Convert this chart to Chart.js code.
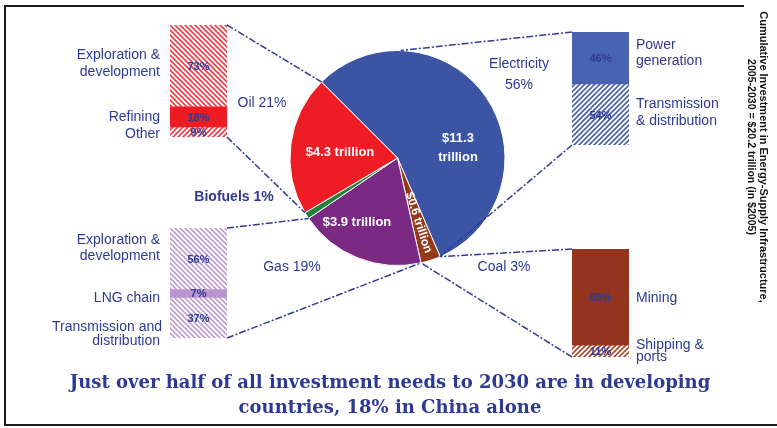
<!DOCTYPE html>
<html>
<head>
<meta charset="utf-8">
<script src="https://cdn.jsdelivr.net/npm/chart.js@4.4.1/dist/chart.umd.min.js"></script>
<style>
  html, body { margin: 0; padding: 0; background: #fff; }
  #page { position: relative; width: 777px; height: 428px; overflow: hidden; background: #fff; }
  #page canvas { position: absolute; }
  #pie { left: 0; top: 0; z-index: 2; pointer-events: none; }
</style>
</head>
<body>
<div id="page">
  <canvas id="oilBar" width="57" height="112" style="left:170px;top:25px"></canvas>
  <canvas id="gasBar" width="57" height="110" style="left:170px;top:228px"></canvas>
  <canvas id="powerBar" width="57" height="113" style="left:572px;top:32px"></canvas>
  <canvas id="coalBar" width="57" height="108" style="left:572px;top:249px"></canvas>
  <canvas id="pie" width="777" height="428"></canvas>
</div>
<script>
// sector shares of total supply investment 2005-2030, per cent
const sectors = ['Electricity', 'Coal', 'Gas', 'Biofuels', 'Oil'];
const sectorShares = [56, 3, 19, 1, 21];
const sectorTrillions = ['$11.3 trillion', '$0.6 trillion', '$3.9 trillion', '', '$4.3 trillion'];

// breakdown inside each sector, per cent
const oilParts = ['Exploration & development', 'Refining', 'Other'];
const oilShares = [73, 18, 9];
const gasParts = ['Exploration & development', 'LNG chain', 'Transmission and distribution'];
const gasShares = [56, 7, 37];
const powerParts = ['Power generation', 'Transmission & distribution'];
const powerShares = [46, 54];
const coalParts = ['Mining', 'Shipping & ports'];
const coalShares = [89, 11];

const INK = '#2e3a92';

// diagonal hatch fill; dir 1 = "\\", -1 = "/"
function hatch(color, dir) {
  const s = 5;
  const c = document.createElement('canvas');
  c.width = s; c.height = s;
  const g = c.getContext('2d');
  g.strokeStyle = color;
  g.lineWidth = 1.6;
  g.beginPath();
  if (dir > 0) {
    g.moveTo(0, 0); g.lineTo(s, s);
    g.moveTo(-1, s - 1); g.lineTo(1, s + 1);
    g.moveTo(s - 1, -1); g.lineTo(s + 1, 1);
  } else {
    g.moveTo(0, s); g.lineTo(s, 0);
    g.moveTo(-1, 1); g.lineTo(1, -1);
    g.moveTo(s - 1, s + 1); g.lineTo(s + 1, s - 1);
  }
  g.stroke();
  return g.createPattern(c, 'repeat');
}

function splitBar(id, parts, shares, fills) {
  return new Chart(document.getElementById(id), {
    type: 'bar',
    data: {
      labels: [''],
      datasets: parts.map((p, i) => ({
        label: p,
        data: [shares[i]],
        backgroundColor: fills[i],
        borderWidth: 0,
        barPercentage: 1,
        categoryPercentage: 1
      }))
    },
    options: {
      responsive: false,
      animation: false,
      devicePixelRatio: 1,
      layout: { padding: 0 },
      plugins: { legend: { display: false }, tooltip: { enabled: false } },
      scales: {
        x: { display: false, stacked: true },
        y: { display: false, stacked: true, min: 0, max: 100, reverse: true }
      }
    }
  });
}

const oilChart = splitBar('oilBar', oilParts, oilShares,
  [hatch('#f03c44', 1), '#ed1c24', hatch('#f03c44', -1)]);
const gasChart = splitBar('gasBar', gasParts, gasShares,
  [hatch('#bf9dd3', 1), '#b995cf', hatch('#bf9dd3', 1)]);
const powerChart = splitBar('powerBar', powerParts, powerShares,
  ['#4863b0', hatch('#4a5fae', -1)]);
const coalChart = splitBar('coalBar', coalParts, coalShares,
  ['#93351e', hatch('#b0482c', -1)]);

// page-space box of a stacked bar
function barBox(chart) {
  const metas = chart.getSortedVisibleDatasetMetas();
  const first = metas[0].data[0];
  const last = metas[metas.length - 1].data[0];
  const ox = chart.canvas.offsetLeft, oy = chart.canvas.offsetTop;
  return {
    left: ox + first.x - first.width / 2,
    right: ox + first.x + first.width / 2,
    top: oy + Math.min(first.base, first.y),
    bottom: oy + Math.max(last.base, last.y),
    mids: metas.map(m => [ox + m.data[0].x, oy + (m.data[0].y + m.data[0].base) / 2])
  };
}

function put(ctx, txt, x, y, font, color, align) {
  ctx.font = font;
  ctx.fillStyle = color;
  ctx.textAlign = align || 'center';
  ctx.textBaseline = 'middle';
  ctx.fillText(txt, x, y);
}

function rim(arc, ang) {
  return [arc.x + arc.outerRadius * Math.cos(ang), arc.y + arc.outerRadius * Math.sin(ang)];
}

const overlay = {
  id: 'overlay',
  afterDraw(chart) {
    const ctx = chart.ctx;
    const arcs = chart.getDatasetMeta(0).data;
    const [elec, coal, gas, bio, oil] = arcs;
    const oilB = barBox(oilChart), gasB = barBox(gasChart);
    const powB = barBox(powerChart), coalB = barBox(coalChart);

    // frame
    ctx.save();
    ctx.strokeStyle = '#1c1c1c';
    ctx.lineWidth = 2;
    ctx.beginPath();
    ctx.moveTo(744, 6); ctx.lineTo(5, 6); ctx.lineTo(5, 425); ctx.lineTo(777, 425);
    ctx.stroke();
    ctx.restore();

    // leader lines from the pie to the breakdown bars
    ctx.save();
    ctx.strokeStyle = '#2f3d91';
    ctx.lineWidth = 1.5;
    ctx.setLineDash([7, 2, 2, 2]);
    const lead = (x, y, p) => { ctx.beginPath(); ctx.moveTo(x, y); ctx.lineTo(p[0], p[1]); ctx.stroke(); };
    lead(oilB.right, oilB.top, rim(oil, oil.endAngle));
    lead(oilB.right, oilB.bottom, rim(oil, oil.startAngle));
    lead(gasB.right, gasB.top, rim(gas, gas.endAngle));
    lead(gasB.right, gasB.bottom, rim(gas, gas.startAngle));
    lead(powB.left, powB.top, rim(elec, -Math.PI / 2 + 0.03));
    lead(powB.left, powB.bottom, rim(elec, elec.endAngle));
    lead(coalB.left, coalB.top, rim(coal, coal.startAngle));
    lead(coalB.left, coalB.bottom, rim(coal, coal.endAngle));
    ctx.restore();

    // values inside the slices
    const w13 = 'bold 13px "Liberation Sans", Arial, sans-serif';
    const parts0 = sectorTrillions[0].split(' ');
    put(ctx, parts0[0], 458, 138, w13, '#fff');
    put(ctx, parts0[1], 458, 157, w13, '#fff');
    put(ctx, sectorTrillions[4], 340, 152, w13, '#fff');
    put(ctx, sectorTrillions[2], 357, 222, w13, '#fff');
    ctx.save();
    const mid = (coal.startAngle + coal.endAngle) / 2;
    const cp = [coal.x + 68 * Math.cos(mid), coal.y + 68 * Math.sin(mid)];
    ctx.translate(cp[0], cp[1]);
    ctx.rotate(mid);
    put(ctx, sectorTrillions[1], 0, 0, 'bold 12px "Liberation Sans", Arial, sans-serif', '#fff');
    ctx.restore();

    // sector names around the pie
    const f14 = '14px "Liberation Sans", Arial, sans-serif';
    put(ctx, sectors[0], 519, 64, f14, INK);
    put(ctx, sectorShares[0] + '%', 519, 85, f14, INK);
    put(ctx, sectors[4] + ' ' + sectorShares[4] + '%', 262, 103, f14, INK);
    put(ctx, sectors[3] + ' ' + sectorShares[3] + '%', 234, 197, 'bold 14px "Liberation Sans", Arial, sans-serif', INK);
    put(ctx, sectors[2] + ' ' + sectorShares[2] + '%', 292, 267, f14, INK);
    put(ctx, sectors[1] + ' ' + sectorShares[1] + '%', 504, 267, f14, INK);

    // percentages inside the bars
    const f11 = 'bold 11px "Liberation Sans", Arial, sans-serif';
    [[oilB, oilShares], [gasB, gasShares], [powB, powerShares], [coalB, coalShares]].forEach(([b, v]) => {
      b.mids.forEach((m, i) => put(ctx, v[i] + '%', m[0], m[1] + 1, f11, INK));
    });

    // bar part names
    put(ctx, 'Exploration &', 160, 55, f14, INK, 'right');
    put(ctx, 'development', 160, 72, f14, INK, 'right');
    put(ctx, oilParts[1], 160, 117, f14, INK, 'right');
    put(ctx, oilParts[2], 160, 134, f14, INK, 'right');
    put(ctx, 'Exploration &', 160, 240, f14, INK, 'right');
    put(ctx, 'development', 160, 256, f14, INK, 'right');
    put(ctx, gasParts[1], 160, 298, f14, INK, 'right');
    put(ctx, 'Transmission and', 162, 327, f14, INK, 'right');
    put(ctx, 'distribution', 160, 341, f14, INK, 'right');
    put(ctx, 'Power', 636, 45, f14, INK, 'left');
    put(ctx, 'generation', 636, 61, f14, INK, 'left');
    put(ctx, 'Transmission', 636, 104, f14, INK, 'left');
    put(ctx, '& distribution', 636, 121, f14, INK, 'left');
    put(ctx, coalParts[0], 636, 298, f14, INK, 'left');
    put(ctx, 'Shipping &', 636, 345, f14, INK, 'left');
    put(ctx, 'ports', 636, 357, f14, INK, 'left');

    // caption
    let size = 18;
    const line1 = 'Just over half of all investment needs to 2030 are in developing';
    ctx.font = 'bold ' + size + 'px "DejaVu Serif", serif';
    while (ctx.measureText(line1).width > 652 && size > 10) {
      size -= 0.5;
      ctx.font = 'bold ' + size + 'px "DejaVu Serif", serif';
    }
    const capFont = 'bold ' + size + 'px "DejaVu Serif", serif';
    put(ctx, line1, 390, 383, capFont, INK);
    put(ctx, 'countries, 18% in China alone', 390, 408, capFont, INK);

    // vertical note on the right
    ctx.save();
    ctx.translate(763, 157);
    ctx.rotate(Math.PI / 2);
    ctx.font = 'bold 11px "Liberation Sans", Arial, sans-serif';
    ctx.fillStyle = '#111';
    ctx.textAlign = 'center';
    ctx.textBaseline = 'middle';
    ctx.fillText('Cumulative Investment in Energy-Supply Infrastructure,', 0, 0, 295);
    ctx.fillText('2005-2030 = $20.2 trillion (in $2005)', -10, 12, 176);
    ctx.restore();
  }
};

new Chart(document.getElementById('pie'), {
  type: 'pie',
  data: {
    labels: sectors,
    datasets: [{
      data: sectorShares,
      backgroundColor: ['#3b54a4', '#933a1d', '#7b2a83', '#23803a', '#ee1d25'],
      borderColor: '#fff',
      borderWidth: 1
    }]
  },
  options: {
    responsive: false,
    animation: false,
    devicePixelRatio: 1,
    rotation: -45,
    layout: { padding: { left: 289, right: 271, top: 50, bottom: 162 } },
    plugins: { legend: { display: false }, tooltip: { enabled: false } }
  },
  plugins: [overlay]
});
</script>
</body>
</html>
